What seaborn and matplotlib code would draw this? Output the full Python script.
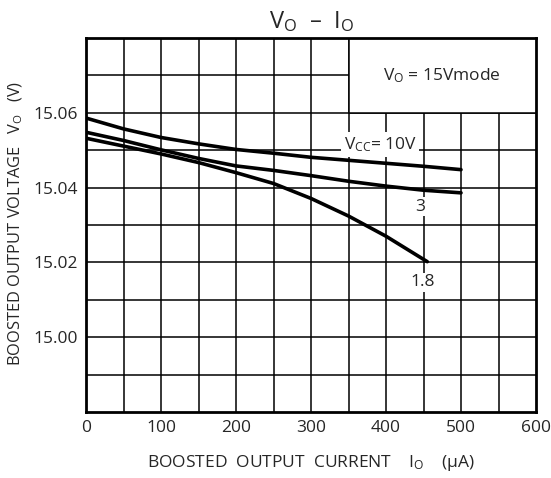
import numpy as np
import pandas as pd
import matplotlib
matplotlib.use('Agg')
import matplotlib.pyplot as plt
from matplotlib.patches import Rectangle
import seaborn as sns

# values
current_10v = [0, 50, 100, 150, 200, 250, 300, 350, 400, 450, 500]
volt_10v = [15.0586, 15.0557, 15.0534, 15.0517, 15.0502, 15.0492,
            15.0481, 15.0473, 15.0465, 15.0457, 15.0448]
current_3v = [0, 50, 100, 150, 200, 250, 300, 350, 400, 450, 500]
volt_3v = [15.0548, 15.0526, 15.0501, 15.0478, 15.0458, 15.0446,
           15.0432, 15.0417, 15.0404, 15.0393, 15.0386]
current_18v = [0, 50, 100, 150, 200, 250, 300, 350, 400, 455]
volt_18v = [15.0532, 15.0511, 15.0490, 15.0467, 15.0440, 15.0411,
            15.0371, 15.0324, 15.0270, 15.0202]

x_ticks = [0, 100, 200, 300, 400, 500, 600]
y_ticks = [15.00, 15.02, 15.04, 15.06]
y_tick_labels = ['15.00', '15.02', '15.04', '15.06']

df = pd.concat([
    pd.DataFrame({'I': current_10v, 'V': volt_10v, 'Vcc': '10'}),
    pd.DataFrame({'I': current_3v, 'V': volt_3v, 'Vcc': '3'}),
    pd.DataFrame({'I': current_18v, 'V': volt_18v, 'Vcc': '1.8'}),
])

sns.set_style('white')
plt.rcParams['font.family'] = ['Open Sans', 'DejaVu Sans']
plt.rcParams['mathtext.fontset'] = 'custom'
plt.rcParams['mathtext.rm'] = 'Open Sans'
plt.rcParams['mathtext.it'] = 'Open Sans:italic'
plt.rcParams['mathtext.default'] = 'rm'

fig = plt.figure(figsize=(5.51, 4.78), dpi=100)
ax = fig.add_axes([86 / 551, 66 / 478, 450 / 551, 374 / 478])

# grid drawn as plain lines so the label boxes can cover it
for gx in np.arange(50, 600, 50):
    ax.axvline(gx, color='black', lw=1.1, zorder=1)
for gy in np.arange(14.99, 15.075, 0.01):
    ax.axhline(gy, color='black', lw=1.1, zorder=1)

sns.lineplot(data=df, x='I', y='V', hue='Vcc',
             palette=['black', 'black', 'black'], linewidth=2.6,
             legend=False, ax=ax, zorder=3, sort=False)

# white box with the mode note
ax.add_patch(Rectangle((350, 15.06), 260, 0.03, facecolor='white',
                       edgecolor='black', lw=1.1, zorder=2))
ax.text(474, 15.0699, r'V$_\mathrm{O}$ = 15Vmode', ha='center', va='center',
        fontsize=12.5, zorder=4)

ax.text(392, 15.0515, r'V$_\mathrm{CC}$= 10V', ha='center', va='center',
        fontsize=12.5, zorder=4,
        bbox=dict(facecolor='white', edgecolor='none', pad=2))
ax.text(446, 15.0349, '3', ha='center', va='center', fontsize=12.5, zorder=4,
        bbox=dict(facecolor='white', edgecolor='none', pad=1))
ax.text(449, 15.0147, '1.8', ha='center', va='center', fontsize=12.5, zorder=4,
        bbox=dict(facecolor='white', edgecolor='none', pad=1))

ax.set_xlim(0, 600)
ax.set_ylim(14.98, 15.08)
ax.set_xticks(x_ticks)
ax.set_yticks(y_ticks)
ax.set_yticklabels(y_tick_labels)
ax.tick_params(length=0, labelsize=12.5, pad=6)
for s in ax.spines.values():
    s.set_linewidth(2)
    s.set_color('black')
    s.set_zorder(5)

ax.set_xlabel(r'BOOSTED  OUTPUT  CURRENT    I$_\mathrm{O}$    ($\mu$A)',
              fontsize=12.5, labelpad=12)
ax.set_ylabel(r'BOOSTED OUTPUT VOLTAGE   V$_\mathrm{O}$   (V)',
              fontsize=11.8)
ax.yaxis.set_label_coords(-0.135, 0.505)
ax.set_title(r'V$_\mathrm{O}$  –  I$_\mathrm{O}$', fontsize=17, pad=7)

fig.savefig('out.png', dpi=100)
